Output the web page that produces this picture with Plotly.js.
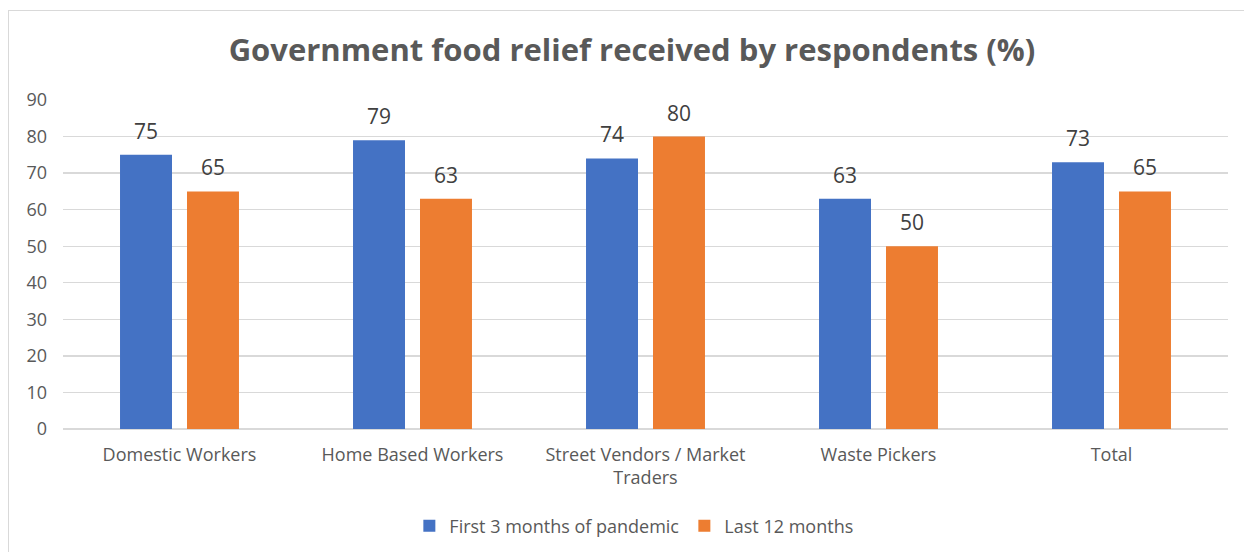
<!DOCTYPE html>
<html><head><meta charset="utf-8">
<script src="https://cdn.plot.ly/plotly-3.0.1.min.js"></script>
<style>
body{margin:0;padding:0;background:#fff;}
#frame{position:absolute;left:8px;top:10px;width:1240px;height:545px;border:1px solid #d9d9d9;box-sizing:border-box;}
#chart{position:absolute;left:0;top:0;width:1244px;height:552px;}
</style></head>
<body>
<div id="frame"></div>
<div id="chart"></div>
<script>
const categories = ["Domestic Workers","Home Based Workers","Street Vendors / Market<br>Traders","Waste Pickers","Total"];
const firstThreeMonths = [75,79,74,63,73];
const lastTwelveMonths = [65,63,80,50,65];
const seriesNames = ["First 3 months of pandemic","Last 12 months"];
const colors = ["#4472c4","#ed7d31"];
const font = "'Open Sans', 'Noto Sans', sans-serif";

const traces = [
  {type:'bar', name:seriesNames[0], x:categories, y:firstThreeMonths, marker:{color:colors[0]}, hoverinfo:'none'},
  {type:'bar', name:seriesNames[1], x:categories, y:lastTwelveMonths, marker:{color:colors[1]}, hoverinfo:'none'}
];
const annotations = [];
[firstThreeMonths,lastTwelveMonths].forEach((arr,si)=>{
  arr.forEach((v,i)=>{
    annotations.push({x:categories[i], y:v, xref:'x', yref:'y', text:String(v), showarrow:false,
      xanchor:'center', yanchor:'bottom', xshift: si===0?-33.5:33.5, yshift:8,
      font:{family:font,size:21,color:'#404040'}});
  });
});
const layout = {
  width:1244, height:552,
  margin:{l:63,r:16,t:100,b:123, autoexpand:false},
  paper_bgcolor:'rgba(0,0,0,0)', plot_bgcolor:'rgba(0,0,0,0)',
  title:{text:'<b>Government food relief received by respondents (%)</b>', x:0.508, xanchor:'center', y:0.909, yref:'container', yanchor:'middle',
    font:{family:font,size:31,color:'#595959'}},
  barmode:'group', bargap:0.425, bargroupgap:0.224,
  xaxis:{type:'category', showgrid:false, zeroline:false, showline:false, ticks:'',
    tickfont:{family:font,size:18,color:'#595959'}, ticklabelstandoff:13, automargin:false},
  yaxis:{range:[0,90], dtick:10, showgrid:true, gridcolor:'#d9d9d9', gridwidth:1.3, zeroline:true, zerolinecolor:'#d9d9d9', zerolinewidth:1.3,
    showline:false, ticks:'', tickfont:{family:font,size:18,color:'#595959'}, ticklabelstandoff:15, fixedrange:true, automargin:false},
  legend:{orientation:'h', x:0.49, xanchor:'center', yref:'container', y:0.047, yanchor:'middle', font:{family:font,size:18,color:'#595959'},
    itemwidth:30, traceorder:'normal'},
  annotations:annotations,
  showlegend:true
};
Plotly.newPlot('chart', traces, layout, {displayModeBar:false, staticPlot:true});
</script>
</body></html>
